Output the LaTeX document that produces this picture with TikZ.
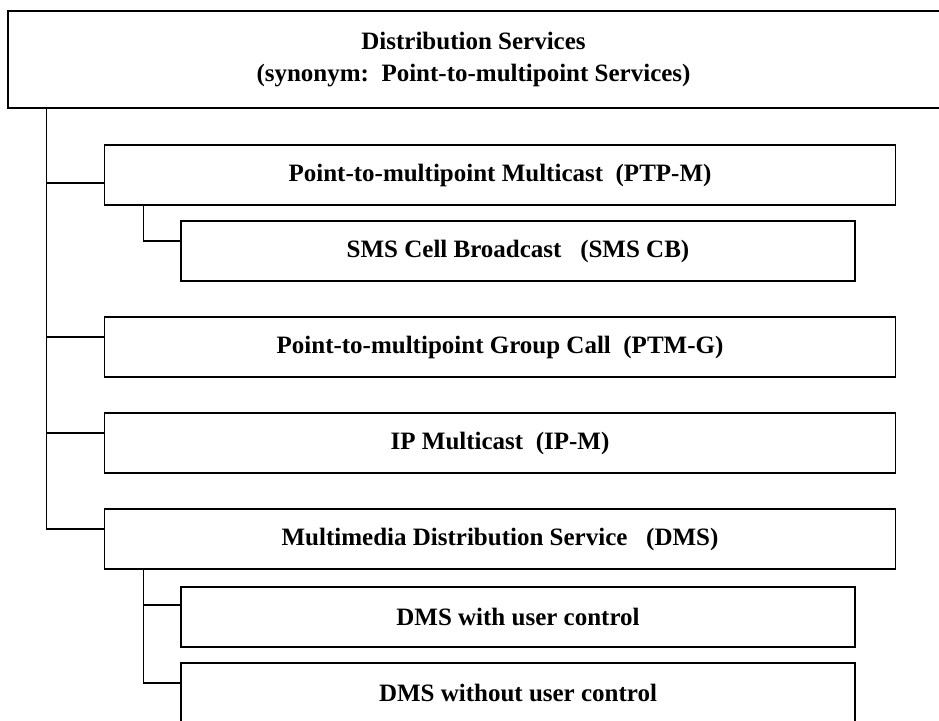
\documentclass[tikz,border=0pt]{standalone}
\usepackage{fontspec}
\setmainfont{Liberation Serif}

\begin{document}
\begin{tikzpicture}[x=1pt,y=1pt,yscale=-1,xscale=1,
		svcbox/.style={draw, line width=1.1pt, inner sep=0pt, outer sep=0pt, minimum height=60pt, align=center, font=\fontsize{25}{32}\selectfont\bfseries},
		widebox/.style={svcbox, minimum width=790.5pt},
		subbox/.style={svcbox, minimum width=674pt},
		link/.style={line width=1.1pt}]
		\clip (0,0) rectangle (939,720);
		\fill[white] (0,0) rectangle (939,720);

		% Top box
		\node[svcbox, minimum width=941pt, minimum height=97pt] (dist) at (478.5,59.5) {\hspace*{-10pt}Distribution Services\\\hspace*{-10pt}(synonym:\ \ Point-to-multipoint Services)};

		% First level boxes
		\node[widebox] (ptpm) at (500,175) {Point-to-multipoint Multicast\ \ (PTP-M)};
		\node[widebox] (ptmg) at (500,347) {Point-to-multipoint Group Call\ \ (PTM-G)};
		\node[widebox] (ipm) at (500,443) {IP Multicast\ \ (IP-M)};
		\node[widebox] (dms) at (500,539) {Multimedia Distribution Service\ \ \ (DMS)};

		% Second level boxes
		\node[subbox] (smscb) at (518,251) {SMS Cell Broadcast\ \ \ (SMS CB)};
		\node[subbox] (dmsuc) at (518,617) {DMS with user control};
		\node[subbox] (dmsnuc) at (518,693) {DMS without user control};

		% Trunk lines
		\coordinate (trunk) at ([xshift=38.5pt]dist.south west);
		\coordinate (ptpmtrunk) at ([xshift=38.5pt]ptpm.south west);
		\coordinate (dmstrunk) at ([xshift=38.5pt]dms.south west);

		\draw[link] (trunk) |- ([yshift=8pt]ptpm.west);
		\draw[link] (trunk) |- ([yshift=-10pt]ptmg.west);
		\draw[link] (trunk) |- ([yshift=-10pt]ipm.west);
		\draw[link] (trunk) |- ([yshift=-10pt]dms.west);

		\draw[link] (ptpmtrunk) |- ([yshift=-10pt]smscb.west);

		\draw[link] (dmstrunk) |- ([yshift=-12pt]dmsuc.west);
		\draw[link] (dmstrunk) |- ([yshift=-10pt]dmsnuc.west);
	\end{tikzpicture}
\end{document}
